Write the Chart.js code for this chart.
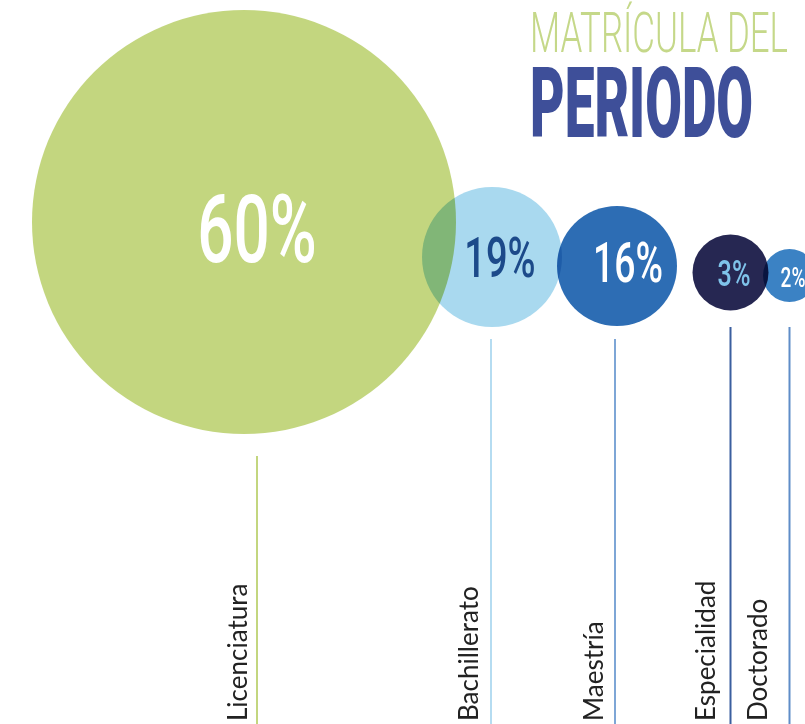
<!DOCTYPE html>
<html lang="es">
<head>
<meta charset="utf-8">
<title>Matrícula del periodo</title>
<script src="https://cdn.jsdelivr.net/npm/chart.js@4.4.1/dist/chart.umd.min.js"></script>
<style>
  html, body { margin: 0; padding: 0; background: #fff; }
  canvas { display: block; }
</style>
</head>
<body>
<canvas id="grafica" width="805" height="724"></canvas>
<script>
// datos
var niveles = ["Licenciatura", "Bachillerato", "Maestría", "Especialidad", "Doctorado"];
var porcentajes = [60, 19, 16, 3, 2];

// acomodo (unidades de la escala)
var burbujaX = [244, 492, 617, 730.5, 789.5];
var burbujaY = [222, 257, 266, 272.5, 275.5];
var burbujaR = [212, 70, 60, 38, 26.5];
var lineaX = [257, 491, 615, 730.5, 789.5];
var lineaDesde = [456, 339, 339, 327, 327];
var textoX = [247, 478, 603, 715, 767];

// estilos
var burbujaColor = ["#c3d67f", "#a9d9ef", "#2d6db4", "#262752", "#3b82c4"];
var lineaColor = ["#c3d67f", "#b5dcf1", "#7ea6d6", "#3b5f9f", "#5f8dc8"];
var pctColor = ["#ffffff", "#1c4a8a", "#ffffff", "#7fc3ea", "#ffffff"];
var pctTam = [94, 56, 55, 37, 28];
var pctDx = [13, 8, 11, 3.5, 3.5];
var pctDy = [6.5, 0, -3.5, 0.5, 1.5];

var ANCHO = 805, ALTO = 724;

var datasets = [{
  type: "bubble",
  label: "Matrícula",
  data: porcentajes.map(function (p, i) {
    return { x: burbujaX[i], y: burbujaY[i], r: burbujaR[i], v: p };
  }),
  backgroundColor: burbujaColor,
  borderWidth: 0,
  hoverBorderWidth: 0
}];

for (var i = 0; i < niveles.length; i++) {
  datasets.push({
    type: "line",
    label: niveles[i],
    data: [{ x: lineaX[i], y: lineaDesde[i] }, { x: lineaX[i], y: ALTO }],
    borderColor: lineaColor[i],
    borderWidth: 2,
    pointRadius: 0,
    fill: false
  });
}

function textoAncho(ctx, texto, x, yBase, ancho, fuente, color) {
  ctx.font = fuente;
  var w = ctx.measureText(texto).width;
  ctx.save();
  ctx.translate(x, yBase);
  ctx.scale(ancho / w, 1);
  ctx.fillStyle = color;
  ctx.textAlign = "left";
  ctx.textBaseline = "alphabetic";
  ctx.fillText(texto, 0, 0);
  ctx.restore();
}

var fondoBlanco = {
  id: "fondoBlanco",
  beforeDraw: function (chart) {
    var ctx = chart.ctx;
    ctx.save();
    ctx.fillStyle = "#ffffff";
    ctx.fillRect(0, 0, chart.width, chart.height);
    ctx.restore();
  },
  // las burbujas se mezclan como multiplicar (se ve el traslape)
  beforeDatasetDraw: function (chart, args) {
    if (args.index === 0) chart.ctx.globalCompositeOperation = "multiply";
  },
  afterDatasetDraw: function (chart, args) {
    if (args.index === 0) chart.ctx.globalCompositeOperation = "source-over";
  }
};

var textos = {
  id: "textos",
  afterDraw: function (chart) {
    var ctx = chart.ctx;
    var sx = chart.scales.x, sy = chart.scales.y;

    // porcentajes dentro de las burbujas
    for (var i = 0; i < porcentajes.length; i++) {
      var cx = sx.getPixelForValue(burbujaX[i]) + pctDx[i];
      var cy = sy.getPixelForValue(burbujaY[i]) + pctDy[i];
      ctx.save();
      ctx.font = "500 " + pctTam[i] + "px Roboto";
      ctx.fillStyle = pctColor[i];
      ctx.textAlign = "center";
      ctx.textBaseline = "alphabetic";
      ctx.translate(cx, cy + pctTam[i] * 0.711 / 2);
      ctx.scale(0.68, 1);
      ctx.fillText(porcentajes[i] + "%", 0, 0);
      ctx.restore();
    }

    // nombres de los niveles, verticales
    for (var j = 0; j < niveles.length; j++) {
      ctx.save();
      ctx.translate(sx.getPixelForValue(textoX[j]), sy.getPixelForValue(721));
      ctx.rotate(-Math.PI / 2);
      ctx.font = "26px Lato";
      ctx.fillStyle = "#222222";
      ctx.textAlign = "left";
      ctx.textBaseline = "alphabetic";
      ctx.fillText(niveles[j], 0, 0);
      ctx.restore();
    }

    // titulo
    textoAncho(ctx, "MATRÍCULA DEL", 530, 52, 258, "300 55px Roboto", "#c5d889");
    textoAncho(ctx, "PERIODO", 530, 137, 223, "900 98px Roboto", "#3e4f99");
  }
};

new Chart(document.getElementById("grafica"), {
  type: "bubble",
  data: { datasets: datasets },
  options: {
    responsive: false,
    animation: false,
    events: [],
    layout: { padding: 0, autoPadding: false },
    scales: {
      x: { type: "linear", min: 0, max: ANCHO, display: false },
      y: { type: "linear", min: 0, max: ALTO, reverse: true, display: false }
    },
    plugins: {
      legend: { display: false },
      tooltip: { enabled: false }
    }
  },
  plugins: [fondoBlanco, textos]
});
</script>
</body>
</html>
